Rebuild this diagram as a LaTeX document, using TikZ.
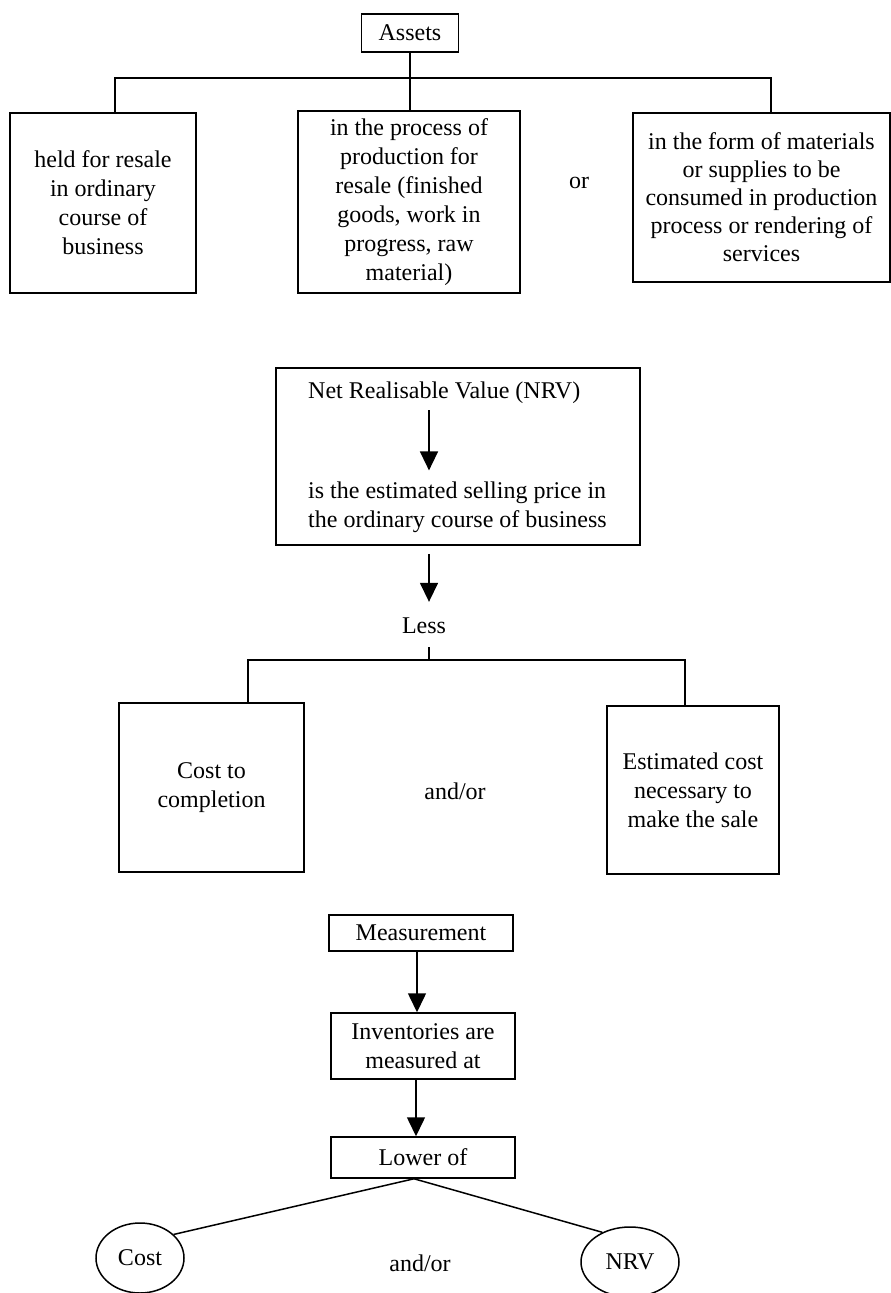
\documentclass[tikz,border=0pt]{standalone}
\usepackage{fontspec}
\setmainfont{Liberation Serif}
\usetikzlibrary{calc, arrows.meta, shapes.geometric}

\tikzset{
  box/.style={draw, line width=1.5pt, align=center, inner sep=0pt},
  oval/.style={draw, ellipse, line width=1.5pt, inner sep=0pt, minimum width=88pt, minimum height=70pt},
  link/.style={line width=1.5pt},
  arr/.style={line width=1.5pt, -{Triangle[length=19pt,width=18pt]}}
}

\begin{document}
\begin{tikzpicture}[x=1pt,y=-1pt,font=\fontsize{24}{29}\selectfont]
\useasboundingbox (0,0) rectangle (891,1293);

\node[box,minimum width=97pt,minimum height=38pt] (assets) at (410,33) {Assets};
\node[box,minimum width=186pt,minimum height=180pt] (resale) at (103,203) {held for resale\\in ordinary\\course of\\business};
\node[box,minimum width=222pt,minimum height=182pt] (prod) at (409,202) {in the process of\\production for\\resale (finished\\goods, work in\\progress, raw\\material)};
\node[box,minimum width=257pt,minimum height=169pt,font=\fontsize{24}{28}\selectfont] (forms) at (761.5,197.5) {in the form of materials\\or supplies to be\\consumed in production\\process or rendering of\\services};
\node (or) at (579,183) {or};
\coordinate (bar) at (0,78);
\draw[link] (assets.south) -- (assets.south |- prod.north);
\draw[link] ([xshift=12pt]resale.north) -- ([xshift=12pt]resale.north |- bar) -- ([xshift=9.5pt]forms.north |- bar) -- ([xshift=9.5pt]forms.north);

\node[box,minimum width=364pt,minimum height=177pt] (nrvbox) at (458,456.5) {};
\node[anchor=west,inner sep=0pt] (nrv) at (308,393) {Net Realisable Value (NRV)};
\node[anchor=west,align=left,inner sep=0pt] (defn) at (308,507) {is the estimated selling price in\\the ordinary course of business};
\coordinate (spine) at (429,0);
\draw[arr,shorten <=6pt,shorten >=11pt] (nrv.south -| spine) -- (defn.north -| spine);
\node[inner sep=0pt] (less) at (424,626) {Less};
\draw[arr,shorten <=8pt,shorten >=16pt] (nrvbox.south -| spine) -- (less.north -| spine);
\coordinate (bar2) at (0,660);
\draw[link,shorten <=13pt] (less.south -| spine) -- (spine |- bar2);

\node[box,minimum width=185pt,minimum height=169pt] (tocomp) at (211.5,787.5) {Cost to\\completion};
\node[box,minimum width=172pt,minimum height=168pt] (sale) at (693,790) {Estimated cost\\necessary to\\make the sale};
\node (andor) at (455,791) {and/or};
\draw[link] ([xshift=36.5pt]tocomp.north) -- ([xshift=36.5pt]tocomp.north |- bar2) -- ([xshift=-8pt]sale.north |- bar2) -- ([xshift=-8pt]sale.north);

\node[box,minimum width=184pt,minimum height=36pt] (measure) at (421,933) {Measurement};
\node[box,minimum width=184pt,minimum height=66pt] (inv) at (423,1046) {Inventories are\\measured at};
\node[box,minimum width=184pt,minimum height=41pt] (lower) at (423,1157.5) {Lower of};
\draw[arr] ([xshift=-4pt]measure.south) -- ([xshift=-4pt]measure.south |- inv.north);
\draw[arr] ([xshift=-7pt]inv.south) -- ([xshift=-7pt]inv.south |- lower.north);

\node[oval] (costc) at (140,1258) {Cost};
\node[oval,minimum width=98pt] (nrvc) at (630,1262) {NRV};
\node (andor2) at (420,1263) {and/or};
\draw[link] ([xshift=-9pt]lower.south) -- (costc.35);
\draw[link] ([xshift=-9pt]lower.south) -- (nrvc.133);
\end{tikzpicture}
\end{document}
